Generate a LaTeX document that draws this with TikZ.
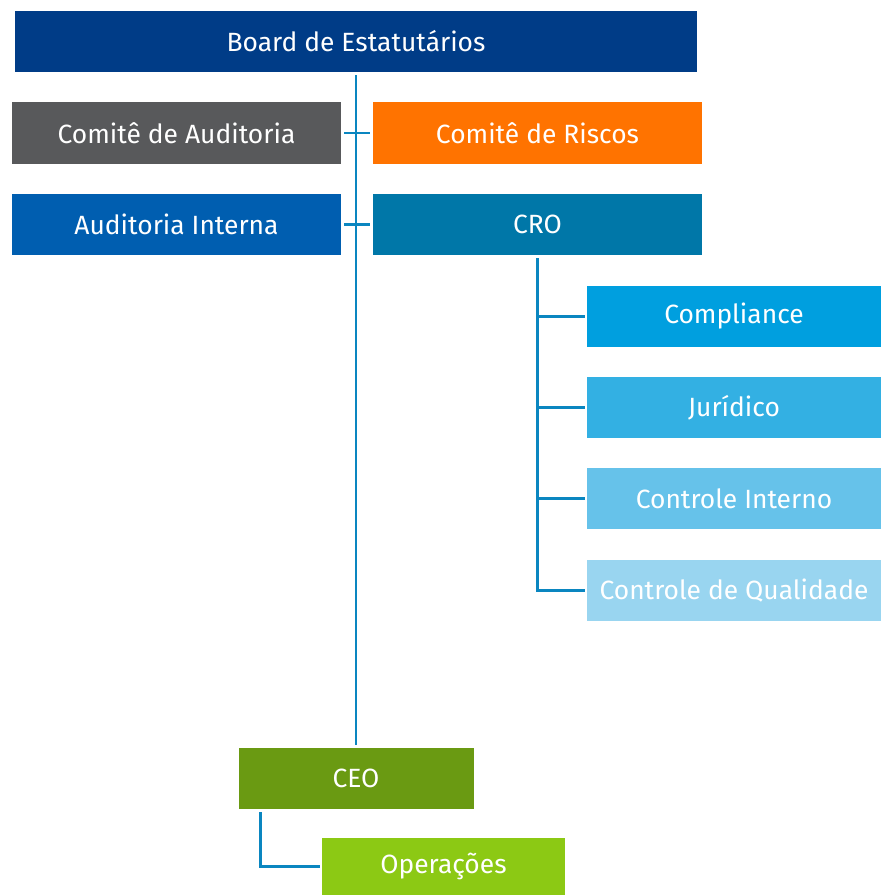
\documentclass[tikz,border=0pt]{standalone}
\usepackage{fontspec}
\setmainfont{Fira Sans}
\usetikzlibrary{positioning}
\definecolor{boardblue}{HTML}{003C87}
\definecolor{auditgray}{HTML}{58595B}
\definecolor{riskorange}{HTML}{FF7300}
\definecolor{internblue}{HTML}{005EB0}
\definecolor{croteal}{HTML}{0077A8}
\definecolor{compblue}{HTML}{009FDF}
\definecolor{jurblue}{HTML}{33B0E3}
\definecolor{ctrlblue}{HTML}{66C2EA}
\definecolor{qualblue}{HTML}{99D5F0}
\definecolor{ceogreen}{HTML}{6A9A12}
\definecolor{opsgreen}{HTML}{8CC914}
\definecolor{linkblue}{HTML}{0A86C0}
\tikzset{
  unit/.style={rectangle, inner sep=0pt, text=white, font=\fontsize{26.4}{30}\selectfont,
    minimum height=61pt},
  link/.style={draw=linkblue, line width=2.5pt},
}

\begin{document}
\begin{tikzpicture}[x=1pt, y=-1pt]
\useasboundingbox (0,0) rectangle (881,895);

% top of the structure
\node[unit, fill=boardblue, minimum width=682pt] (board) at (356,41.5) {Board de Estatutários};
\node[unit, fill=auditgray, minimum width=329pt, minimum height=62pt] (comaud) at (176.5,133) {Comitê de Auditoria};
\node[unit, fill=riskorange, minimum width=329pt, minimum height=62pt] (comrisk) at (537.5,133) {Comitê de Riscos};
\node[unit, fill=internblue, minimum width=329pt] (audint) at (176.5,224.5) {Auditoria Interna};
\node[unit, fill=croteal, minimum width=329pt] (cro) at (537.5,224.5) {CRO};

% areas under the CRO
\node[unit, fill=compblue, minimum width=294pt] (compl) at (734,316.5) {Compliance};
\node[unit, fill=jurblue, minimum width=294pt] (jur) at (734,407.5) {Jurídico};
\node[unit, fill=ctrlblue, minimum width=294pt] (ctrl) at (734,498.5) {Controle Interno};
\node[unit, fill=qualblue, minimum width=294pt] (qual) at (734,590.5) {Controle de Qualidade};

% CEO side
\node[unit, fill=ceogreen, minimum width=235pt] (ceo) at (356,778.5) {CEO};
\node[unit, fill=opsgreen, minimum width=243pt, minimum height=57pt] (ops) at (443.5,866.5) {Operações};

\draw[link, shorten <=3pt, shorten >=3pt] (board.south) -- (ceo.north);
\draw[link, shorten <=3pt, shorten >=3pt] (comaud.east) -- (comrisk.west);
\draw[link, shorten <=3pt, shorten >=3pt] (audint.east) -- (cro.west);
\foreach \n in {compl,jur,ctrl,qual}
  \draw[link, shorten <=3pt, shorten >=2pt] (cro.south) |- (\n.west);
\draw[link, shorten >=2pt] ([xshift=22pt,yshift=-3pt]ceo.south west) |- (ops.west);
\end{tikzpicture}
\end{document}
